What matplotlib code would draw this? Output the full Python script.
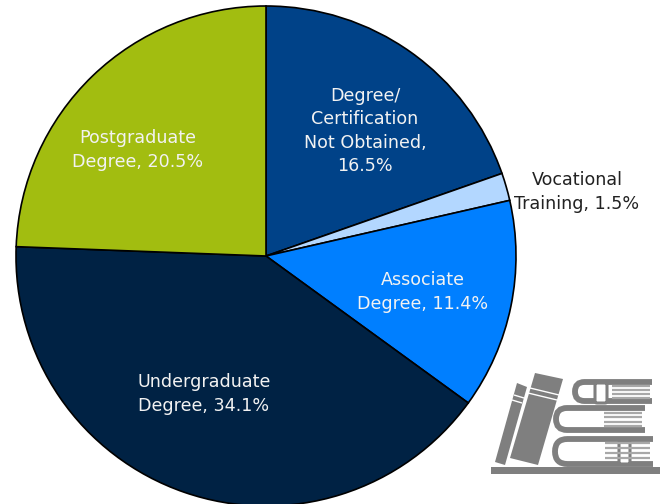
import matplotlib
matplotlib.use("Agg")
import matplotlib.pyplot as plt
from matplotlib.patches import Polygon, Rectangle, PathPatch, FancyBboxPatch
from matplotlib.path import Path

categories = ["Degree/\nCertification\nNot Obtained,\n16.5%", "Vocational\nTraining, 1.5%",
              "Associate\nDegree, 11.4%", "Undergraduate\nDegree, 34.1%", "Postgraduate\nDegree, 20.5%"]
values = [16.5, 1.5, 11.4, 34.1, 20.5]
colors = ["#004288", "#B3D7FF", "#007FFF", "#002244", "#A2BD10"]
text_colors = ["#F2F2F2", "#222222", "#F2F2F2", "#F2F2F2", "#F2F2F2"]
label_xy = [(365, 131), (577, 192), (423, 292), (204, 394), (138, 150)]

W, H = 662, 504
plt.rcParams['font.family'] = ['DejaVu Sans']
fig = plt.figure(figsize=(W / 100, H / 100), dpi=100)
ax = fig.add_axes([0, 0, 1, 1])

wedges, _ = ax.pie(values, colors=colors, startangle=90, counterclock=False,
                   center=(266, 256), radius=250, frame=True,
                   wedgeprops=dict(edgecolor='black', linewidth=1.2))
ax.set_xlim(0, W)
ax.set_ylim(H, 0)
ax.set_aspect('equal')
ax.axis('off')
# y axis is inverted, so flip wedges back by mirroring about the centre
for w in wedges:
    t1, t2 = w.theta1, w.theta2
    w.set_theta1(-t2)
    w.set_theta2(-t1)

for lab, (x, y), c in zip(categories, label_xy, text_colors):
    ax.text(x, y, lab, ha='center', va='center', color=c, fontsize=12.6,
            linespacing=1.36)

# Books icon (decoration)
g = "#7F7F7F"
ax.add_patch(Rectangle((491, 467), 169, 7, fc=g, ec='none'))
ax.add_patch(Polygon([(535, 373), (563, 379), (538, 465), (510, 458)], fc=g, ec='none'))
ax.add_patch(Polygon([(517, 383), (527, 387), (505, 465), (495, 462)], fc=g, ec='none'))
for p in ([(530, 388), (559, 395)], [(528, 393), (557, 400)], [(514, 395), (524, 398)], [(512, 400), (522, 403)]):
    ax.plot(*zip(*p), color='white', lw=1.0, solid_capstyle='butt')

def cover(x0, y0, x1, y1):
    r = (y1 - y0) / 2
    verts = [(x1, y0), (x0 + r, y0), (x0, y0), (x0, y0 + r), (x0, y1), (x0 + r, y1), (x1, y1)]
    codes = [Path.MOVETO, Path.LINETO, Path.CURVE3, Path.CURVE3, Path.CURVE3, Path.CURVE3, Path.LINETO]
    ax.add_patch(PathPatch(Path(verts, codes), fc='none', ec=g, lw=4.2, capstyle='butt'))

cover(575, 382, 652, 401)
cover(556, 408, 645, 430)
cover(555, 439, 653, 464)
for x0, x1, y0, y1 in [(612, 650, 386, 398), (604, 642, 413, 426), (605, 650, 443, 458)]:
    for k in range(4):
        yy = y0 + k * (y1 - y0) / 3
        ax.plot([x0, x1], [yy, yy], color="#A8A8A8", lw=1.6, solid_capstyle='butt')
for x0, y0, x1, y1 in [(595, 383, 607, 403), (619, 441, 630, 464)]:
    ax.add_patch(FancyBboxPatch((x0 + 2, y0 + 2), x1 - x0 - 4, y1 - y0 - 4,
                                boxstyle="round,pad=2", fc='white', ec=g, lw=2.2))

fig.savefig("out.png", dpi=100)
